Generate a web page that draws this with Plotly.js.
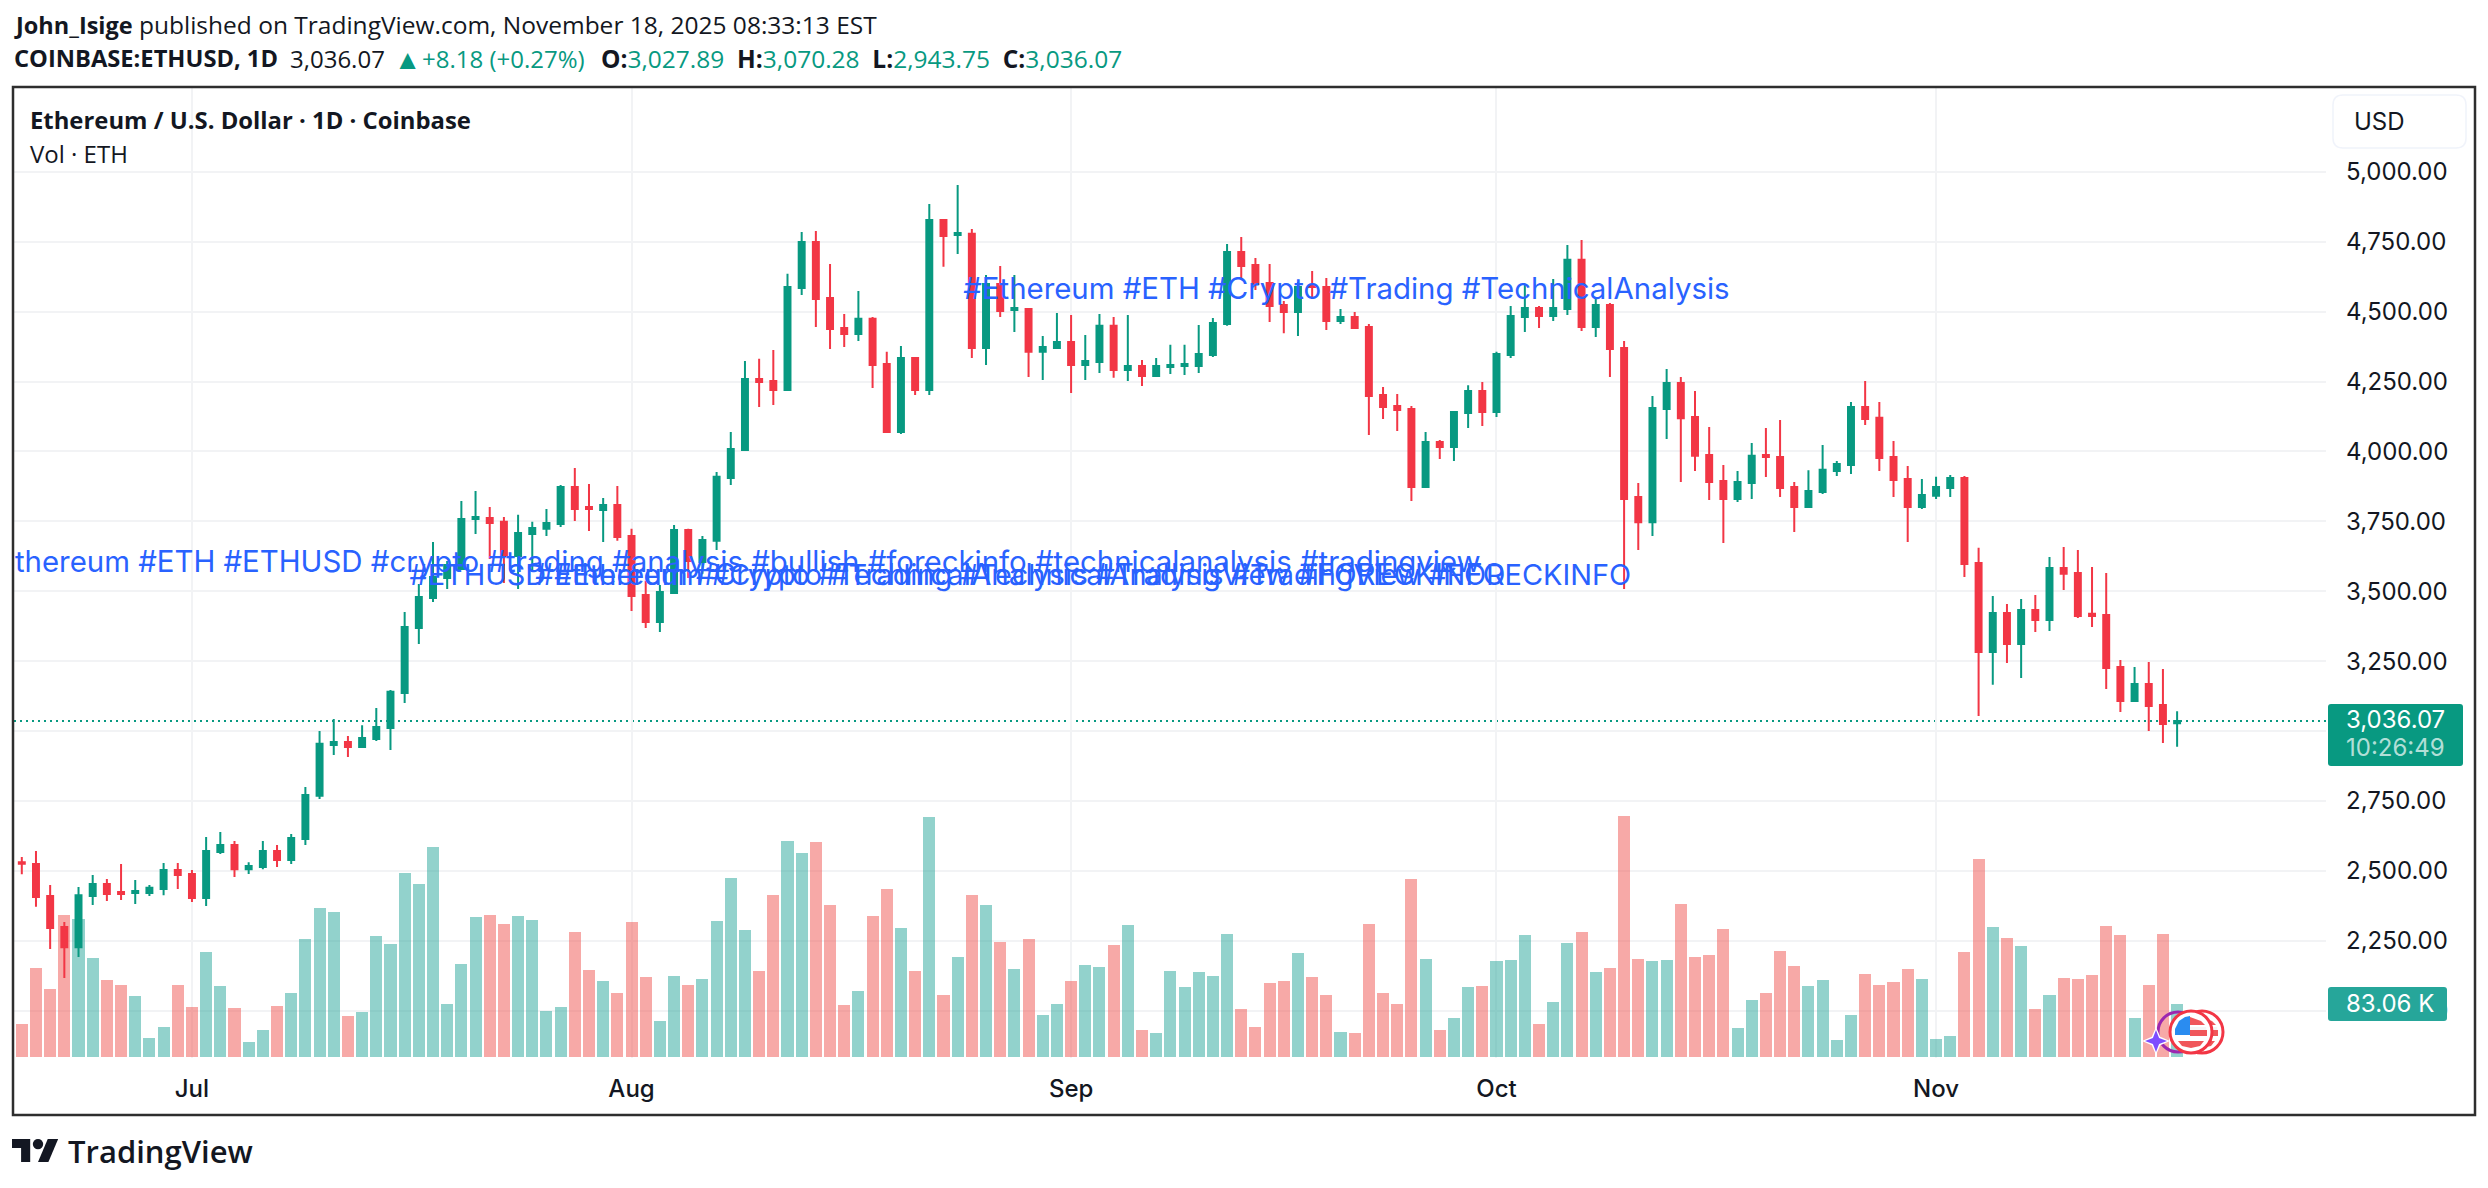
<!DOCTYPE html>
<html><head><meta charset="utf-8">
<script src="https://cdn.plot.ly/plotly-3.0.1.min.js"></script>
<style>html,body{margin:0;padding:0;background:#fff}#c{width:2488px;height:1188px}</style></head>
<body><div id="c"></div>
<script>
const startDate = '2025-06-19';
const opens = [2531,2524,2410,2299,2227,2410,2453,2424,2421,2421,2435,2503,2489,2403,2567,2592,2506,2514,2571,2539,2614,2768,2950,2961,2943,2971,3011,3136,3368,3476,3547,3579,3758,3762,3748,3626,3705,3723,3740,3873,3801,3790,3808,3697,3486,3390,3494,3719,3604,3680,3905,4005,4259,4252,4220,4584,4749,4549,4441,4420,4474,4313,4069,4334,4220,4828,4774,4778,4370,4599,4506,4509,4356,4370,4391,4309,4320,4449,4291,4305,4270,4302,4305,4305,4345,4456,4713,4667,4602,4524,4499,4592,4588,4466,4481,4445,4202,4162,4152,3873,4034,4016,4137,4216,4141,4345,4481,4513,4484,4509,4685,4445,4524,4370,3837,3747,4152,4245,4123,3987,3894,3830,3887,3987,3980,3873,3801,3855,3930,3951,4159,4120,3980,3901,3801,3841,3869,3905,3601,3283,3422,3311,3433,3397,3583,3565,3419,3415,3229,3107,3168,3093,3027.89];
const highs = [2549,2571,2449,2317,2442,2485,2471,2524,2467,2449,2528,2528,2503,2621,2639,2607,2531,2607,2592,2632,2800,3000,3043,2982,3021,3082,3147,3426,3526,3676,3608,3823,3858,3801,3765,3773,3748,3794,3880,3941,3883,3833,3876,3723,3537,3522,3737,3723,3697,3926,4069,4323,4331,4363,4635,4785,4788,4670,4491,4574,4481,4356,4377,4338,4885,4828,4953,4795,4631,4663,4631,4513,4413,4495,4488,4416,4491,4481,4488,4327,4334,4381,4381,4452,4477,4742,4767,4692,4670,4538,4606,4645,4620,4509,4499,4456,4230,4205,4162,4069,4041,4144,4237,4248,4356,4520,4595,4520,4617,4738,4756,4552,4531,4395,3887,4198,4295,4266,4216,4087,3951,3930,4030,4084,4112,3891,3933,4023,3966,4177,4252,4177,4037,3948,3901,3909,3916,3912,3655,3483,3454,3472,3486,3622,3658,3647,3587,3565,3254,3229,3247,3222,3070.28];
const lows = [2488,2371,2220,2117,2192,2378,2392,2396,2381,2410,2413,2435,2388,2374,2560,2478,2489,2506,2514,2524,2592,2757,2914,2907,2939,2964,2932,3100,3311,3461,3508,3576,3705,3615,3529,3508,3570,3697,3730,3751,3715,3676,3680,3429,3368,3354,3490,3547,3562,3647,3880,4005,4159,4166,4220,4559,4445,4366,4373,4395,4227,4066,4062,4202,4202,4660,4706,4334,4309,4481,4427,4266,4255,4370,4209,4255,4280,4263,4252,4234,4270,4277,4273,4280,4338,4449,4613,4577,4463,4423,4413,4552,4434,4456,4441,4059,4116,4073,3823,3869,3973,3966,4084,4091,4123,4334,4427,4441,4466,4488,4431,4409,4266,3508,3647,3697,4044,3891,3930,3826,3672,3819,3830,3908,3837,3712,3798,3848,3912,3919,4094,3930,3837,3676,3794,3830,3837,3551,3054,3165,3243,3190,3354,3358,3504,3404,3372,3150,3068,3107,3000,2957,2943.75];
const closes = [2525,2406,2295,2227,2413,2453,2417,2417,2428,2439,2503,2485,2403,2571,2592,2506,2517,2571,2539,2617,2771,2954,2961,2943,2975,3014,3140,3372,3479,3551,3594,3758,3765,3744,3626,3708,3726,3744,3873,3794,3794,3808,3694,3483,3390,3497,3719,3608,3683,3909,4009,4259,4248,4220,4588,4749,4545,4438,4420,4474,4309,4069,4334,4220,4828,4770,4781,4370,4599,4502,4513,4356,4373,4391,4309,4323,4449,4291,4305,4270,4305,4309,4313,4348,4459,4713,4663,4599,4520,4499,4588,4588,4466,4481,4441,4198,4159,4148,3873,4034,4016,4141,4216,4141,4348,4484,4513,4484,4513,4685,4445,4524,4366,3830,3747,4155,4245,4119,3984,3891,3830,3891,3984,3980,3869,3801,3858,3934,3955,4159,4116,3976,3898,3801,3844,3873,3905,3597,3283,3422,3311,3433,3397,3583,3562,3411,3411,3225,3107,3168,3089,3025,3036.07];
const volumesK = [51.7,139.5,106.6,222.5,216.3,155.2,120.7,112.8,95.6,29.8,47.0,112.8,78.4,164.6,111.3,76.8,23.5,42.3,79.9,100.3,184.9,233.5,227.2,64.3,70.5,189.6,177.1,288.4,271.1,329.1,83.1,145.8,219.4,222.5,208.4,221,214.7,72.1,78.4,195.9,136.3,119.1,100.3,211.6,125.4,56.4,126.9,112.8,122.2,213.1,280.5,199,134.8,253.9,338.5,319.7,336.9,238.2,81.5,103.4,221,263.3,202.2,134.8,376.1,97.2,156.7,253.9,238.2,180.2,137.9,184.9,65.8,83.1,119.1,144.2,141,175.5,206.9,42.3,37.6,134.8,109.7,133.2,126.9,192.8,75.2,47,116,119.1,163,125.4,97.2,39.2,37.6,208.4,100.3,83.1,279,153.6,42.3,61.1,109.7,111.3,150.5,152,191.2,51.7,86.2,178.7,195.9,133.2,139.5,377.7,153.6,150.5,152,239.8,156.7,159.9,200.6,45.4,89.3,100.3,166.1,142.6,111.3,120.7,26.6,65.8,130.1,112.8,117.5,137.9,122.2,28.2,32.9,164.6,310.3,203.7,186.5,174,75.2,97.2,123.8,122.2,128.5,205.3,191.2,61.1,112.8,192.8,83.06];
const priceTicks = [2000,2250,2500,2750,3000,3250,3500,3750,4000,4250,4500,4750,5000];
const monthTicks = ['2025-07-01','2025-08-01','2025-09-01','2025-10-01','2025-11-01'];
const monthLabels = ['Jul','Aug','Sep','Oct','Nov'];
const lastPrice = 3036.07;
const tagTexts = ['#Ethereum #ETH #Crypto #Trading #TechnicalAnalysis',
  '#Ethereum #ETH #ETHUSD #crypto #trading #analysis #bullish #foreckinfo #technicalanalysis #tradingview',
  '#ETHUSD #Ethereum #Crypto #Trading #TechnicalAnalysis #TradingView #FORECKINFO',
  '#Ethereum #Crypto #TechnicalAnalysis #TradingView #FORECKINFO'];
const tagDates = ['2025-09-20 10:00','2025-08-07 22:00','2025-08-28 10:00','2025-08-28 10:00'];
const tagPrices = [4573,3594,3547,3547];
const tagSizes = [29.4,29.4,28.9,29.6];

const UP='#089981', DOWN='#F23645', INK='#131722';
const dates = opens.map((_,i)=>new Date(Date.parse(startDate+'T00:00:00Z')+i*864e5).toISOString().slice(0,10));
const volColors = opens.map((o,i)=>closes[i]>=o?'rgba(38,166,154,0.5)':'rgba(239,83,80,0.5)');

// pixel helpers for page furniture (plot area 14..2326 x 88..1058)
const L=14,R=2326,T=88,B=1058;
const X=p=>(p-L)/(R-L), Y=p=>1-(p-T)/(B-T);
const poly=pts=>'M'+pts.map(p=>X(p[0])+','+Y(p[1])).join('L')+'Z';
const rr=(x0,y0,x1,y1,r)=>{const P=(x,y)=>X(x)+','+Y(y);
  return 'M'+P(x0+r,y0)+'L'+P(x1-r,y0)+'Q'+P(x1,y0)+' '+P(x1,y0+r)+'L'+P(x1,y1-r)+'Q'+P(x1,y1)+' '+P(x1-r,y1)+'L'+P(x0+r,y1)+'Q'+P(x0,y1)+' '+P(x0,y1-r)+'L'+P(x0,y0+r)+'Q'+P(x0,y0)+' '+P(x0+r,y0)+'Z';};
const paper=o=>Object.assign({xref:'paper',yref:'paper',layer:'above'},o);
const box=(x0,y0,x1,y1,fill,line,w)=>paper({type:'rect',x0:X(x0),x1:X(x1),y0:Y(y0),y1:Y(y1),fillcolor:fill,line:{color:line||fill,width:w===undefined?0:w}});
const circ=(cx,cy,r,fill,line,w)=>paper({type:'circle',x0:X(cx-r),x1:X(cx+r),y0:Y(cy-r),y1:Y(cy+r),fillcolor:fill,line:{color:line,width:w}});
const path=(d,fill)=>paper({type:'path',path:d,fillcolor:fill,line:{width:0}});
const star=(cx,cy,r,f)=>poly([[cx,cy-r],[cx+r*f,cy-r*f],[cx+r,cy],[cx+r*f,cy+r*f],[cx,cy+r],[cx-r*f,cy+r*f],[cx-r,cy],[cx-r*f,cy-r*f]]);
const lx=x=>12+x*1.3, ly=y=>1139+(y-4)*1.28;
const flag=(cx,cy)=>[
  circ(cx,cy,21,'#ffffff',DOWN,3),
  path(poly([[cx-15,cy-5],[cx+15,cy-5],[cx+16,cy+1],[cx-16,cy+1]]),'#f5f5f5'),
  path(poly([[cx-1,cy-15],[cx+10,cy-11],[cx+14,cy-7],[cx-1,cy-7]]),'#F0565A'),
  path(poly([[cx-1,cy-2],[cx+16,cy-2],[cx+16,cy+4],[cx-1,cy+4]]),'#F0565A'),
  path(poly([[cx-13,cy+9],[cx+13,cy+9],[cx+9,cy+14],[cx,cy+16],[cx-9,cy+14]]),'#F0565A'),
  path(poly([[cx-1,cy-16],[cx-1,cy+3],[cx-16,cy+3],[cx-16,cy-3],[cx-12,cy-11],[cx-6,cy-15]]),'#2A8CF0')
];

const shapes=[
  {type:'line',xref:'paper',yref:'y2',x0:0,x1:1,y0:lastPrice,y1:lastPrice,layer:'below',line:{color:UP,width:2,dash:'2px,4px'}},
  box(13,87,2475,1115,'rgba(0,0,0,0)','#2E2E2E',2.5),
  paper({type:'path',path:rr(2333,95,2466,148,10),fillcolor:'#ffffff',line:{color:'#F0F3FA',width:1.5}}),
  box(2352,1020,2376,1028,'#ffffff'),
  path(rr(2328,704,2463,766,3),UP),
  path(rr(2328,987,2447,1021,3),'#26A69A'),
  paper({type:'circle',x0:X(2158),x1:X(2198),y0:Y(1012),y1:Y(1052),fillcolor:'rgba(0,0,0,0)',line:{color:'#9C27B0',width:3}}),
  ...flag(2202,1032),
  ...flag(2191,1032),
  path(star(2156,1041,14,0.3),'#ffffff'),
  path(star(2156,1041,11,0.28),'#7E4DFF'),
  path(poly([[lx(14),ly(22)],[lx(7),ly(22)],[lx(7),ly(11)],[lx(0),ly(11)],[lx(0),ly(4)],[lx(14),ly(4)]]),INK),
  path(poly([[lx(28),ly(22)],[lx(20),ly(22)],[lx(27.5),ly(4)],[lx(35.5),ly(4)]]),INK),
  paper({type:'circle',x0:X(lx(16)),x1:X(lx(24)),y0:Y(ly(12)),y1:Y(ly(4)),fillcolor:INK,line:{width:0}})
];

const note=(x,y,text,size,family,color,weight)=>({xref:'paper',yref:'paper',x:X(x),y:Y(y),text,showarrow:false,xanchor:'left',yanchor:'middle',align:'left',borderpad:0,font:{size,family,color,weight:weight||400}});
const HEAD='"Open Sans", sans-serif', TICK='Inter, sans-serif';
const g=t=>`<span style="color:${UP}">${t}</span>`;
const S='\u00A0\u00A0';
const annotations=[
  note(13,24.5,'<b>John_Isige</b>',23.5,HEAD,INK),
  note(138,24.5,'published on TradingView.com, November 18, 2025 08:33:13 EST',24.5,HEAD,INK),
  note(13,58,'<b>COINBASE:ETHUSD, 1D</b>',23.7,HEAD,INK),
  note(289,58,'3,036.07',24,HEAD,INK),
  note(393,58,g('▲'),27.5,HEAD,UP),
  note(421,58,g('+8.18 (+0.27%)'),24,HEAD,UP),
  note(600,58,`<b>O:</b>${g('3,027.89')}${S}<b>H:</b>${g('3,070.28')}${S}<b>L:</b>${g('2,943.75')}${S}<b>C:</b>${g('3,036.07')}`,24.5,HEAD,INK),
  note(29,120,'<b>Ethereum / U.S. Dollar · 1D · Coinbase</b>',23.85,HEAD,INK),
  note(29,153,'Vol · ETH',24,HEAD,INK),
  note(2353,122,'USD',24,TICK,INK),
  note(2345,719,'3,036.07',24,TICK,'#ffffff'),
  note(2345,747,'10:26:49',24,TICK,'rgba(255,255,255,0.7)'),
  note(2345,1003,'83.06 K',24,TICK,'#ffffff'),
  note(67,1151,'TradingView',31,HEAD,INK,600)
];

const traces=[
 {type:'bar',x:dates,y:volumesK,width:864e5*0.85,marker:{color:volColors,line:{width:0}},xaxis:'x',yaxis:'y',hoverinfo:'skip',showlegend:false},
 {type:'candlestick',x:dates,open:opens,high:highs,low:lows,close:closes,xaxis:'x',yaxis:'y2',whiskerwidth:0,
  increasing:{line:{color:UP,width:2},fillcolor:UP},decreasing:{line:{color:DOWN,width:2},fillcolor:DOWN},hoverinfo:'skip',showlegend:false},
 {type:'scatter',mode:'text',x:tagDates,y:tagPrices,text:tagTexts,textposition:'middle center',cliponaxis:true,xaxis:'x',yaxis:'y2',
  textfont:{family:'Inter, sans-serif',size:tagSizes,color:'#2962FF'},hoverinfo:'skip',showlegend:false}
];

const layout={
 width:2488,height:1188,paper_bgcolor:'#fff',plot_bgcolor:'#fff',showlegend:false,boxgap:0.4,bargap:0,
 margin:{l:L,r:2488-R,t:T,b:1188-B,pad:0},
 font:{family:'Inter, sans-serif',color:INK},
 xaxis:{type:'date',range:['2025-06-18 10:48','2025-11-28 12:00'],tickmode:'array',tickvals:monthTicks,ticktext:monthLabels,
  showgrid:true,gridcolor:'#F2F3F5',gridwidth:2,zeroline:false,showline:false,ticks:'',ticklabelstandoff:14,
  tickfont:{family:'Inter, sans-serif',size:24,color:INK,weight:500},rangeslider:{visible:false},automargin:false},
 yaxis:{range:[-1.57,1518.8],visible:false,fixedrange:true,showgrid:false,zeroline:false},
 yaxis2:{overlaying:'y',side:'right',range:[1830.5,5299.7],tickmode:'array',tickvals:priceTicks,tickformat:',.2f',
  showgrid:true,gridcolor:'#F2F3F5',gridwidth:2,zeroline:false,showline:false,ticks:'',ticklabelstandoff:19,
  tickfont:{family:'Inter, sans-serif',size:24,color:INK},automargin:false},
 shapes,annotations
};
Plotly.newPlot('c',traces,layout,{displayModeBar:false,responsive:false});
</script></body></html>
